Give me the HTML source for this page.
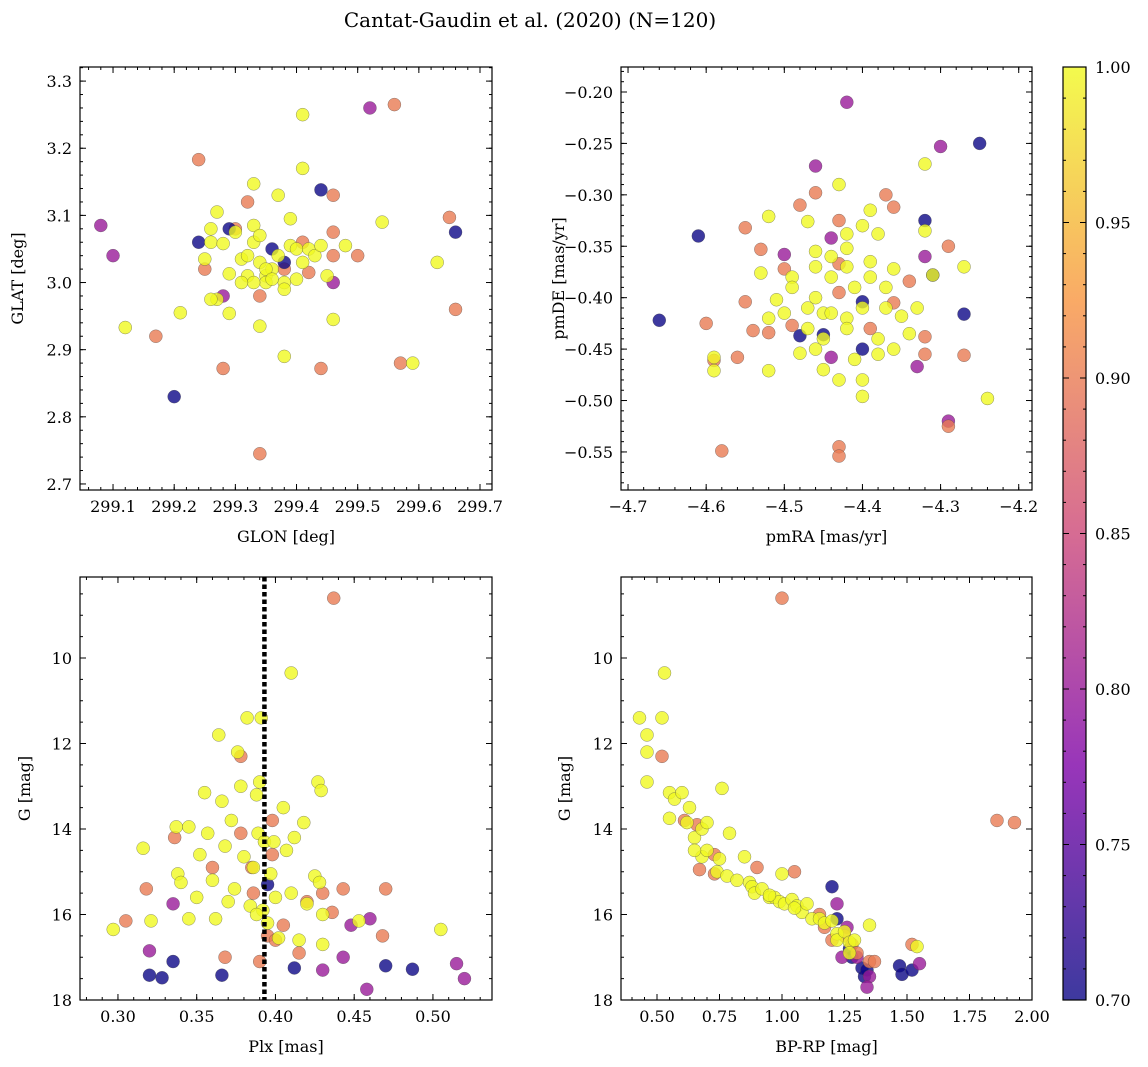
<!DOCTYPE html>
<html><head><meta charset="utf-8"><style>
body{margin:0;background:#fff}
svg{display:block;font-family:"DejaVu Serif","Liberation Serif",serif}
</style></head><body>
<svg id="fig" width="1148" height="1067" viewBox="0 0 1148 1067" xmlns="http://www.w3.org/2000/svg">
<defs><linearGradient id="plasma" x1="0" y1="1" x2="0" y2="0">
<stop offset="0" stop-color="#0d0887"/><stop offset="0.25" stop-color="#7e03a8"/><stop offset="0.5" stop-color="#cc4778"/><stop offset="0.75" stop-color="#f89540"/><stop offset="1" stop-color="#f0f921"/></linearGradient></defs>
<text x="530" y="27" font-size="20" text-anchor="middle">Cantat-Gaudin et al. (2020) (N=120)</text>
</svg>
<script>
// Panel 1: GLON / GLAT
const p1x=[299.08,299.10,299.52,299.28,299.46,299.56,299.24,299.17,299.28,299.44,299.34,299.57,299.66,299.65,299.50,299.46,299.46,299.32,299.30,299.25,299.41,299.42,299.38,299.46,299.34,299.20,299.24,299.29,299.44,299.66,299.36,299.38,299.41,299.41,299.33,299.37,299.12,299.21,299.27,299.26,299.25,299.26,299.27,299.26,299.28,299.29,299.29,299.30,299.31,299.32,299.32,299.33,299.33,299.34,299.34,299.35,299.34,299.35,299.36,299.37,299.38,299.38,299.39,299.39,299.38,299.40,299.41,299.42,299.43,299.44,299.45,299.46,299.48,299.54,299.59,299.63,299.33,299.35,299.31,299.40,299.36];
const p1y=[3.085,3.04,3.26,2.98,3.00,3.265,3.183,2.92,2.872,2.872,2.745,2.88,2.96,3.097,3.04,3.13,3.075,3.12,3.08,3.02,3.06,3.015,3.02,3.04,2.98,2.83,3.06,3.08,3.138,3.075,3.05,3.03,3.25,3.17,3.147,3.13,2.933,2.955,3.105,3.08,3.035,3.06,2.975,2.975,3.058,3.013,2.954,3.075,3.035,3.01,3.04,3.06,3.085,3.07,3.03,3.01,2.935,3.0,3.02,3.04,3.0,2.99,3.095,3.055,2.89,3.05,3.03,3.05,3.04,3.055,3.01,2.945,3.055,3.09,2.88,3.03,3.0,3.02,3.0,3.005,3.005];
const p1c=[0.8,0.8,0.8,0.8,0.8,0.9,0.9,0.9,0.9,0.9,0.9,0.9,0.9,0.9,0.9,0.9,0.9,0.9,0.9,0.9,0.9,0.9,0.9,0.9,0.9,0.7,0.7,0.7,0.7,0.7,0.7,0.7,1,1,1,1,1,1,1,1,1,1,1,1,1,1,1,1,1,1,1,1,1,1,1,1,1,1,1,1,1,1,1,1,1,1,1,1,1,1,1,1,1,1,1,1,1,1,1,1,1];
// Panel 2: pmRA / pmDE
const p2x=[-4.66,-4.61,-4.48,-4.45,-4.40,-4.40,-4.32,-4.31,-4.27,-4.25,-4.42,-4.46,-4.44,-4.50,-4.44,-4.30,-4.32,-4.33,-4.29,-4.60,-4.59,-4.58,-4.55,-4.55,-4.54,-4.53,-4.52,-4.56,-4.49,-4.48,-4.46,-4.43,-4.43,-4.43,-4.43,-4.37,-4.36,-4.34,-4.32,-4.32,-4.29,-4.27,-4.29,-4.50,-4.36,-4.39,-4.43,-4.59,-4.59,-4.52,-4.53,-4.52,-4.52,-4.51,-4.50,-4.49,-4.49,-4.48,-4.47,-4.47,-4.47,-4.46,-4.46,-4.46,-4.45,-4.45,-4.46,-4.45,-4.44,-4.44,-4.43,-4.43,-4.42,-4.42,-4.42,-4.42,-4.42,-4.41,-4.40,-4.40,-4.40,-4.39,-4.39,-4.39,-4.38,-4.38,-4.38,-4.37,-4.37,-4.36,-4.36,-4.35,-4.34,-4.33,-4.32,-4.32,-4.31,-4.27,-4.24,-4.40,-4.44,-4.41];
const p2y=[-0.422,-0.34,-0.437,-0.436,-0.404,-0.45,-0.325,-0.378,-0.416,-0.25,-0.21,-0.272,-0.342,-0.358,-0.458,-0.253,-0.36,-0.467,-0.52,-0.425,-0.461,-0.549,-0.332,-0.404,-0.432,-0.353,-0.434,-0.458,-0.427,-0.31,-0.298,-0.325,-0.395,-0.545,-0.554,-0.3,-0.312,-0.384,-0.438,-0.455,-0.35,-0.456,-0.525,-0.372,-0.405,-0.43,-0.367,-0.471,-0.458,-0.321,-0.376,-0.42,-0.471,-0.402,-0.415,-0.38,-0.39,-0.454,-0.326,-0.41,-0.43,-0.40,-0.355,-0.37,-0.415,-0.44,-0.45,-0.47,-0.36,-0.38,-0.48,-0.29,-0.338,-0.352,-0.37,-0.42,-0.43,-0.46,-0.33,-0.41,-0.496,-0.315,-0.365,-0.38,-0.338,-0.44,-0.455,-0.39,-0.41,-0.372,-0.45,-0.418,-0.435,-0.41,-0.27,-0.335,-0.378,-0.37,-0.498,-0.48,-0.415,-0.39];
const p2c=[0.7,0.7,0.7,0.7,0.7,0.7,0.7,0.7,0.7,0.7,0.8,0.8,0.8,0.8,0.8,0.8,0.8,0.8,0.8,0.9,0.9,0.9,0.9,0.9,0.9,0.9,0.9,0.9,0.9,0.9,0.9,0.9,0.9,0.9,0.9,0.9,0.9,0.9,0.9,0.9,0.9,0.9,0.9,0.9,0.9,0.9,0.9,1,1,1,1,1,1,1,1,1,1,1,1,1,1,1,1,1,1,1,1,1,1,1,1,1,1,1,1,1,1,1,1,1,1,1,1,1,1,1,1,1,1,1,1,1,1,1,1,1,1,1,1,1,1,1];
// Panel 3: Plx / G
const p3x=[0.32,0.328,0.335,0.366,0.412,0.47,0.487,0.395,0.32,0.335,0.43,0.443,0.448,0.46,0.458,0.515,0.52,0.437,0.305,0.318,0.336,0.368,0.378,0.378,0.386,0.39,0.395,0.398,0.4,0.405,0.415,0.42,0.43,0.436,0.443,0.47,0.468,0.36,0.385,0.398,0.297,0.316,0.321,0.337,0.338,0.34,0.345,0.345,0.35,0.352,0.355,0.357,0.36,0.362,0.364,0.366,0.368,0.37,0.372,0.374,0.376,0.378,0.38,0.382,0.384,0.386,0.388,0.389,0.39,0.391,0.392,0.393,0.395,0.397,0.399,0.4,0.402,0.405,0.407,0.41,0.412,0.415,0.418,0.42,0.425,0.427,0.429,0.43,0.43,0.428,0.453,0.505,0.41,0.388];
const p3y=[17.42,17.48,17.1,17.42,17.25,17.2,17.28,15.3,16.85,15.75,17.3,17.0,16.25,16.1,17.75,17.15,17.5,8.6,16.15,15.4,14.2,17.0,12.3,14.1,15.5,17.1,16.5,14.6,16.6,16.25,16.9,15.7,15.5,15.95,15.4,15.4,16.5,14.9,14.9,13.8,16.35,14.45,16.15,13.95,15.05,15.25,13.95,16.1,15.6,14.6,13.15,14.1,15.2,16.1,11.8,13.35,14.4,15.7,13.8,15.4,12.2,13.0,14.65,11.4,15.8,14.9,13.2,14.1,12.9,11.4,15.9,14.3,16.2,15.05,14.3,15.6,16.55,13.5,14.5,10.35,14.2,16.6,13.85,15.75,15.1,12.9,13.1,16.0,16.7,15.25,16.15,16.35,15.5,16.0];
const p3c=[0.7,0.7,0.7,0.7,0.7,0.7,0.7,0.7,0.8,0.8,0.8,0.8,0.8,0.8,0.8,0.8,0.8,0.9,0.9,0.9,0.9,0.9,0.9,0.9,0.9,0.9,0.9,0.9,0.9,0.9,0.9,0.9,0.9,0.9,0.9,0.9,0.9,0.9,0.9,0.9,1,1,1,1,1,1,1,1,1,1,1,1,1,1,1,1,1,1,1,1,1,1,1,1,1,1,1,1,1,1,1,1,1,1,1,1,1,1,1,1,1,1,1,1,1,1,1,1,1,1,1,1,1,1];
const plxCut=0.393;
// Panel 4: BP-RP / G
const p4x=[1.2,1.22,1.27,1.28,1.32,1.33,1.34,1.47,1.48,1.52,1.26,1.3,1.24,1.35,1.34,1.55,1.22,1.0,0.52,0.61,0.67,0.73,0.9,1.05,1.15,1.17,1.2,1.25,1.28,1.3,1.35,1.37,1.52,1.86,1.93,0.66,0.73,0.43,0.46,0.46,0.46,0.52,0.53,0.55,0.57,0.55,0.6,0.63,0.62,0.65,0.68,0.7,0.68,0.7,0.75,0.74,0.76,0.78,0.79,0.82,0.85,0.87,0.88,0.89,0.92,0.95,0.97,0.99,1.0,1.01,1.04,1.06,1.08,1.1,1.12,1.15,1.17,1.2,1.22,1.22,1.25,1.27,1.29,1.27,1.35,1.54,0.65,0.95,1.05];
const p4y=[15.35,16.1,16.8,17.0,17.25,17.45,17.3,17.2,17.4,17.3,16.3,17.0,17.0,17.45,17.7,17.15,15.75,8.6,12.3,13.8,14.95,14.6,14.9,15.0,16.0,16.3,16.6,16.5,16.7,16.9,17.1,17.1,16.7,13.8,13.85,13.9,15.05,11.4,11.8,12.2,12.9,11.4,10.35,13.15,13.3,13.75,13.15,13.5,13.85,14.2,14.0,13.85,14.65,14.5,14.7,15.0,13.05,15.1,14.1,15.2,14.65,15.25,15.35,15.5,15.4,15.6,15.6,15.7,15.05,15.75,15.65,15.8,15.95,15.75,16.1,16.1,16.2,16.15,16.45,16.6,16.4,16.65,16.6,16.9,16.25,16.75,14.5,15.55,15.85];
const p4c=[0.7,0.7,0.7,0.7,0.7,0.7,0.7,0.7,0.7,0.7,0.8,0.8,0.8,0.8,0.8,0.8,0.8,0.9,0.9,0.9,0.9,0.9,0.9,0.9,0.9,0.9,0.9,0.9,0.9,0.9,0.9,0.9,0.9,0.9,0.9,0.9,0.9,1,1,1,1,1,1,1,1,1,1,1,1,1,1,1,1,1,1,1,1,1,1,1,1,1,1,1,1,1,1,1,1,1,1,1,1,1,1,1,1,1,1,1,1,1,1,1,1,1,1,1,1,1,1];
const cbTicks=[0.70,0.75,0.80,0.85,0.90,0.95,1.00];

const NS="http://www.w3.org/2000/svg";
const fig=document.getElementById('fig');
function el(t,a,p){const e=document.createElementNS(NS,t);for(const k in a)e.setAttribute(k,a[k]);(p||fig).appendChild(e);return e;}
const stops=[[0,[13,8,135]],[0.25,[126,3,168]],[0.5,[204,71,120]],[0.75,[248,149,64]],[1,[240,249,33]]];
function plasma(v){let t=(v-0.7)/0.3;t=Math.max(0,Math.min(1,t));for(let i=0;i<4;i++){const[a,ca]=stops[i],[b,cb]=stops[i+1];if(t<=b){const f=(t-a)/(b-a);return 'rgb('+ca.map((c,j)=>Math.round(c+(cb[j]-c)*f)).join(',')+')';}}return 'rgb(240,249,33)';}
function fmt(v,d){const s=Math.abs(v).toFixed(d);return (v<-1e-9?'\u2212':'')+s;}
function panel(o){
 const g=el('g',{});
 
 
 const sx=v=>o.L+(v-o.x0)/(o.x1-o.x0)*(o.R-o.L);
 const sy=v=>o.B-(v-o.y0)/(o.y1-o.y0)*(o.B-o.T);
 for(let i=0;i<o.xs.length;i++){
  const c=el('circle',{cx:sx(o.xs[i]),cy:sy(o.ys[i]),r:6.5,fill:plasma(o.cs[i]),'fill-opacity':0.8,stroke:'#444','stroke-width':0.5,'stroke-opacity':0.6},g);
  
  
 }
 if(o.extra)o.extra(g,sx,sy);
 const fr=el('rect',{x:o.L,y:o.T,width:o.R-o.L,height:o.B-o.T,fill:'none',stroke:'#000','stroke-width':1.2},g);
 
 
 const eps=1e-9;
 for(let v=Math.ceil((Math.min(o.x0,o.x1))/o.xm-eps)*o.xm;v<=Math.max(o.x0,o.x1)+eps;v+=o.xm){const x=sx(v);if(x<o.L-0.5||x>o.R+0.5)continue;
  el('line',{x1:x,x2:x,y1:o.B,y2:o.B-3,stroke:'#000'},g);el('line',{x1:x,x2:x,y1:o.T,y2:o.T+3,stroke:'#000'},g);}
 for(const v of o.xt){const x=sx(v);
  el('line',{x1:x,x2:x,y1:o.B,y2:o.B-6,stroke:'#000'},g);el('line',{x1:x,x2:x,y1:o.T,y2:o.T+6,stroke:'#000'},g);
  const t=el('text',{x:x,y:o.B+22,'font-size':16,'text-anchor':'middle'},g);t.textContent=fmt(v,o.xd);
  
  }
 const lo=Math.min(o.y0,o.y1),hi=Math.max(o.y0,o.y1);
 for(let v=Math.ceil(lo/o.ym-eps)*o.ym;v<=hi+eps;v+=o.ym){const y=sy(v);
  el('line',{x1:o.L,x2:o.L+3,y1:y,y2:y,stroke:'#000'},g);el('line',{x1:o.R,x2:o.R-3,y1:y,y2:y,stroke:'#000'},g);}
 for(const v of o.yt){const y=sy(v);
  el('line',{x1:o.L,x2:o.L+6,y1:y,y2:y,stroke:'#000'},g);el('line',{x1:o.R,x2:o.R-6,y1:y,y2:y,stroke:'#000'},g);
  const t=el('text',{x:o.L-8,y:y+6,'font-size':16,'text-anchor':'end'},g);t.textContent=fmt(v,o.yd);
  
  }
 const xl=el('text',{x:(o.L+o.R)/2,y:o.B+52,'font-size':16,'text-anchor':'middle'},g);xl.textContent=o.xl;
 
 
 const cy=(o.T+o.B)/2;
 const yl=el('text',{x:o.ylx,y:cy,'font-size':16,'text-anchor':'middle',transform:'rotate(-90 '+o.ylx+' '+cy+')'},g);yl.textContent=o.yl;
 
 
}
panel({name:'glon-glat-panel',L:80,R:492,T:67,B:490,x0:299.046,x1:299.7196,y0:2.691,y1:3.321,xs:p1x,ys:p1y,cs:p1c,
 xt:[299.1,299.2,299.3,299.4,299.5,299.6,299.7],xd:1,xm:0.02,yt:[2.7,2.8,2.9,3.0,3.1,3.2,3.3],yd:1,ym:0.02,xl:'GLON [deg]',yl:'GLAT [deg]',ylx:23});
panel({name:'proper-motion-panel',L:621,R:1032,T:67,B:490,x0:-4.709,x1:-4.183,y0:-0.587,y1:-0.1757,xs:p2x,ys:p2y,cs:p2c,
 xt:[-4.7,-4.6,-4.5,-4.4,-4.3,-4.2],xd:1,xm:0.02,yt:[-0.55,-0.5,-0.45,-0.4,-0.35,-0.3,-0.25,-0.2],yd:2,ym:0.01,xl:'pmRA [mas/yr]',yl:'pmDE [mas/yr]',ylx:564});
panel({name:'parallax-mag-panel',L:80,R:492,T:577,B:1000,x0:0.2759,x1:0.5375,y0:18,y1:8.105,xs:p3x,ys:p3y,cs:p3c,
 xt:[0.30,0.35,0.40,0.45,0.50],xd:2,xm:0.01,yt:[10,12,14,16,18],yd:0,ym:0.5,xl:'Plx [mas]',yl:'G [mag]',ylx:30,
 extra:(g,sx,sy)=>{const l=el('line',{x1:sx(plxCut),x2:sx(plxCut),y1:577,y2:1000,stroke:'#000','stroke-width':4.5,'stroke-dasharray':'4.5 3'},g);
  
  }});
panel({name:'cmd-panel',L:621,R:1032,T:577,B:1000,x0:0.356,x1:2.0,y0:18,y1:8.105,xs:p4x,ys:p4y,cs:p4c,
 xt:[0.5,0.75,1.0,1.25,1.5,1.75,2.0],xd:2,xm:0.05,yt:[10,12,14,16,18],yd:0,ym:0.5,xl:'BP-RP [mag]',yl:'G [mag]',ylx:570});
const cb=el('g',{});


el('rect',{x:1063,y:67,width:23,height:933,fill:'url(#plasma)','fill-opacity':0.8},cb);
el('rect',{x:1063,y:67,width:23,height:933,fill:'none',stroke:'#000','stroke-width':1.2},cb);
const cy=v=>1000-(v-0.7)/0.3*933;
for(let k=0;k<=30;k++){const v=0.7+k*0.01,y=cy(v);el('line',{x1:1086,x2:1083,y1:y,y2:y,stroke:'#000'},cb);el('line',{x1:1063,x2:1066,y1:y,y2:y,stroke:'#000'},cb);}
for(const v of cbTicks){const y=cy(v);el('line',{x1:1086,x2:1080,y1:y,y2:y,stroke:'#000'},cb);el('line',{x1:1063,x2:1069,y1:y,y2:y,stroke:'#000'},cb);
 const t=el('text',{x:1095,y:y+6,'font-size':16},cb);t.textContent=v.toFixed(2);
 
 }
</script>
</body></html>
